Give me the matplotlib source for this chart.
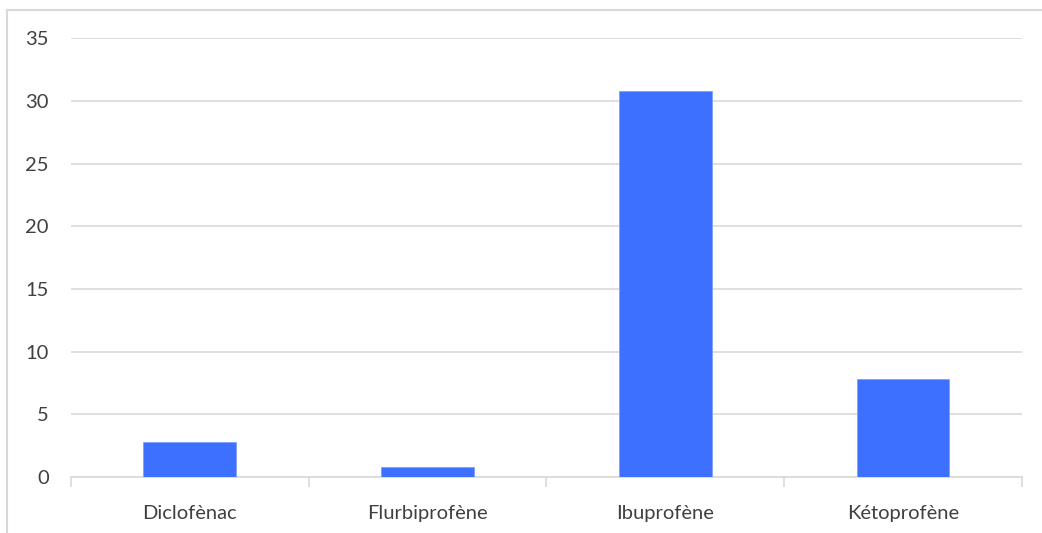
import matplotlib.pyplot as plt
from matplotlib.lines import Line2D
import numpy as np

# data
categories = ["Diclofènac", "Flurbiprofène", "Ibuprofène", "Kétoprofène"]
values = [2.8, 0.8, 30.8, 7.8]
y_ticks = [0, 5, 10, 15, 20, 25, 30, 35]

plt.rcParams['font.family'] = ['Lato', 'DejaVu Sans']

fig = plt.figure(figsize=(10.42, 5.33), dpi=100)
ax = fig.add_axes([0.0681, 0.105, 0.9127, 0.8228])

x = np.arange(len(categories))
ax.bar(x, values, width=0.39, color='#3D70FF', edgecolor='#7FA0FF', linewidth=0.6, zorder=3)

ax.set_xlim(-0.5, len(categories) - 0.5)
ax.set_ylim(0, 35)
ax.set_yticks(y_ticks)
ax.set_yticklabels([str(t) for t in y_ticks], fontsize=14.5, color='#404040')
ax.yaxis.grid(True, color='#D9D9D9', linewidth=1.2, zorder=0)
ax.tick_params(axis='y', length=0, pad=16)

# category labels in the middle, tick marks on the boundaries
ax.set_xticks(x)
ax.set_xticklabels(categories, fontsize=14.5, color='#404040')
ax.tick_params(axis='x', length=0, pad=20)
ax.set_xticks(np.arange(-0.5, len(categories)), minor=True)
ax.tick_params(axis='x', which='minor', length=7, width=1.2, color='#D9D9D9')

for s in ['top', 'right', 'left']:
    ax.spines[s].set_visible(False)
ax.spines['bottom'].set_color('#D9D9D9')
ax.spines['bottom'].set_linewidth(1.2)

# chart area border (top and left only visible)
fig.add_artist(Line2D([7 / 1042, 1.0], [1 - 10 / 533, 1 - 10 / 533], color='#D9D9D9', linewidth=1.5))
fig.add_artist(Line2D([7 / 1042, 7 / 1042], [0.0, 1 - 10 / 533], color='#D9D9D9', linewidth=1.5))

fig.savefig('out.png', dpi=100)
